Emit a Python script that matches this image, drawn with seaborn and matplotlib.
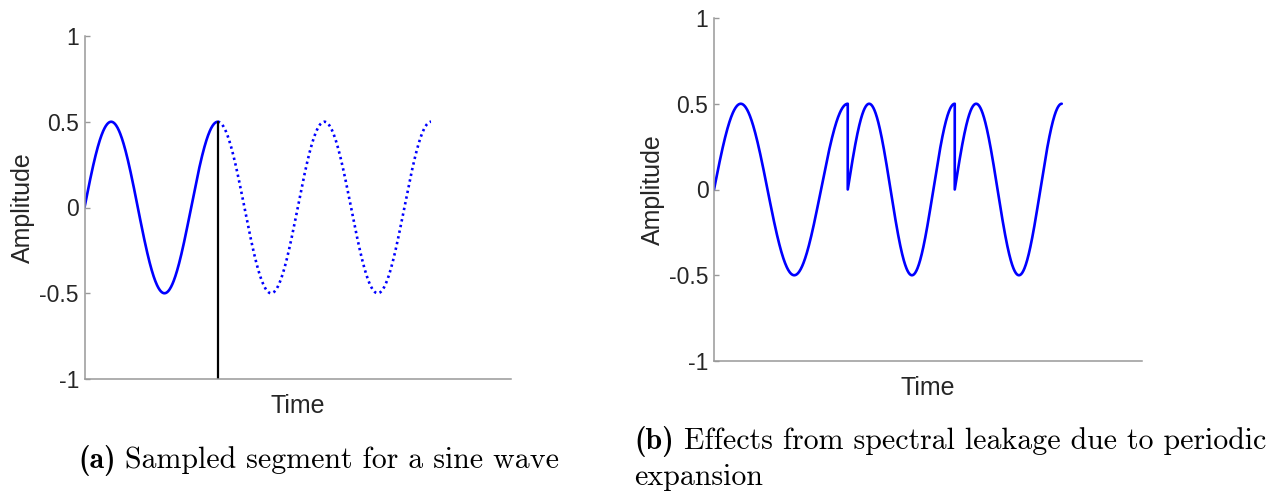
import numpy as np
import pandas as pd
import matplotlib
matplotlib.use("Agg")
import matplotlib.pyplot as plt
import seaborn as sns

# ---- values ----
amplitude = 0.5                  # peak amplitude of the sine
segment_cycles = 1.25            # periods contained in the sampled segment
total_cycles = 3.25              # length of the continued sine (panel a)
rep_starts = [0.0, 1.25, 2.25]   # where each repeated segment starts (panel b)
rep_ends = [1.25, 2.25, 3.25]    # where each repeated segment ends (panel b)
x_max = 4.0                      # x-axis extent
y_ticks = [-1, -0.5, 0, 0.5, 1]
y_tick_labels = ["-1", "-0.5", "0", "0.5", "1"]
x_label = "Time"
y_label = "Amplitude"
cap_a_tag, cap_a_text = "(a)", "Sampled segment for a sine wave"
cap_b_tag, cap_b_text, cap_b_line2 = "(b)", "Effects from spectral leakage due to periodic", "expansion"

# ---- build series ----
n = 400
phase = np.linspace(0, segment_cycles, n)
seg_y = amplitude * np.sin(2 * np.pi * phase)
seg = pd.DataFrame({"t": phase, "y": seg_y})
t_cont = np.linspace(segment_cycles, total_cycles, 2 * n)
cont = pd.DataFrame({"t": t_cont, "y": amplitude * np.sin(2 * np.pi * t_cont)})
rep = pd.concat(
    [pd.DataFrame({"t": np.linspace(s, e, n), "y": seg_y}) for s, e in zip(rep_starts, rep_ends)],
    ignore_index=True,
)
cut = pd.DataFrame({"t": [segment_cycles, segment_cycles], "y": [-1, amplitude]})

sns.set_theme(style="white")
plt.rcParams["font.family"] = ["Liberation Sans", "DejaVu Sans"]

W, H = 1269, 491
fig = plt.figure(figsize=(W / 100, H / 100), dpi=100)
ax1 = fig.add_axes([84.5 / W, 1 - 379 / H, 426.5 / W, 343 / H])
ax2 = fig.add_axes([714 / W, 1 - 361 / H, 428 / W, 343 / H])

blue = "#0000FF"
lw = 1.9
sns.lineplot(data=seg, x="t", y="y", ax=ax1, color=blue, lw=lw, estimator=None, sort=False)
sns.lineplot(data=cont, x="t", y="y", ax=ax1, color=blue, lw=lw, estimator=None, sort=False,
             linestyle=(0, (0.9, 1.3)))
sns.lineplot(data=cut, x="t", y="y", ax=ax1, color="black", lw=1.6, estimator=None, sort=False)
sns.lineplot(data=rep, x="t", y="y", ax=ax2, color=blue, lw=lw, estimator=None, sort=False)

for ax in (ax1, ax2):
    ax.set_xlim(0, x_max)
    ax.set_ylim(-1, 1)
    ax.set_yticks(y_ticks)
    ax.set_yticklabels(y_tick_labels)
    ax.set_xticks([])
    for s in ("top", "right"):
        ax.spines[s].set_visible(False)
    for s in ("left", "bottom"):
        ax.spines[s].set_color("#999999")
        ax.spines[s].set_linewidth(1.1)
    ax.tick_params(axis="y", direction="in", length=3.5, width=1.0, color="#999999",
                   labelsize=16.5, labelcolor="#262626", pad=4, left=True)
    ax.set_xlabel(x_label, fontsize=18, color="#262626", labelpad=11)
    ax.set_ylabel(y_label, fontsize=18, color="#262626", labelpad=3)
    ax.patch.set_alpha(0)

cap_fs = 21.5


def caption(x_px, base_px, tag, text):
    t1 = fig.text(x_px / W, 1 - base_px / H, tag, family="cmb10", fontsize=cap_fs,
                  color="black", ha="left", va="baseline")
    fig.canvas.draw()
    bb = t1.get_window_extent()
    gap = 0.33 * cap_fs * 100 / 72
    fig.text((bb.x1 + gap) / W, 1 - base_px / H, text, family="cmr10", fontsize=cap_fs,
             color="black", ha="left", va="baseline")


caption(78, 468, cap_a_tag, cap_a_text)
caption(634, 449, cap_b_tag, cap_b_text)
fig.text(634 / W, 1 - 485 / H, cap_b_line2, family="cmr10", fontsize=cap_fs, color="black",
         ha="left", va="baseline")

fig.savefig("out.png", dpi=100, facecolor="white")
